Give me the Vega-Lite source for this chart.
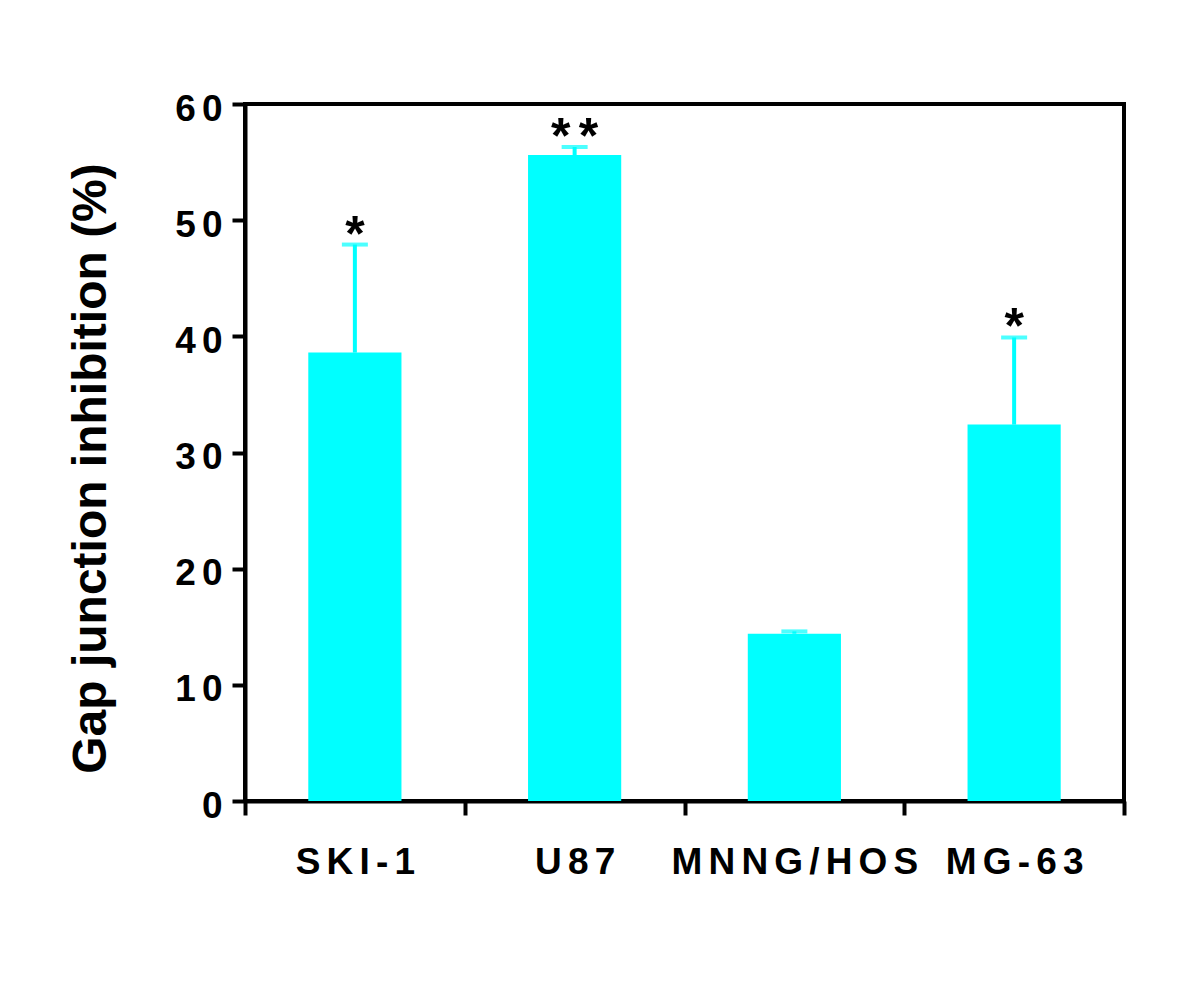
{
  "$schema": "https://vega.github.io/schema/vega-lite/v6.json",
  "width": 879,
  "height": 697,
  "autosize": {"type": "none"},
  "padding": {"left": 245, "top": 104, "right": 76, "bottom": 184},
  "background": "white",
  "config": {
    "view": {"stroke": "black", "strokeWidth": 4},
    "font": "Liberation Sans"
  },
  "data": {
    "values": [
      {"cell": "SKI-1", "value": 38.6, "err": 47.9, "sig": "*"},
      {"cell": "U87", "value": 55.6, "err": 56.3, "sig": "*\u2006*"},
      {"cell": "MNNG/HOS", "value": 14.4, "err": 14.6, "sig": ""},
      {"cell": "MG-63", "value": 32.4, "err": 39.9, "sig": "*"}
    ]
  },
  "encoding": {
    "x": {
      "field": "cell",
      "type": "nominal",
      "sort": null,
      "scale": {"paddingInner": 0, "paddingOuter": 0},
      "axis": {
        "title": null,
        "labelAngle": 0,
        "labelFont": "Liberation Sans",
        "labelFontSize": 37,
        "labelFontWeight": "bold",
        "labelColor": "black",
        "labelPadding": 29,
        "labelLimit": 0,
        "labelExpr": "join(split(datum.label, ''), '\u2006')",
        "domainColor": "black",
        "domainWidth": 4,
        "tickColor": "black",
        "tickWidth": 4,
        "tickSize": 14,
        "tickBand": "extent"
      }
    }
  },
  "layer": [
    {
      "mark": {"type": "bar", "color": "#00FFFF", "width": {"band": 0.424}},
      "encoding": {
        "y": {
          "field": "value",
          "type": "quantitative",
          "scale": {"domain": [0, 60], "nice": false},
          "axis": {
            "title": "Gap junction inhibition (%)",
            "values": [0, 10, 20, 30, 40, 50, 60],
            "grid": false,
            "labelFont": "Liberation Sans",
            "labelFontSize": 37,
            "labelFontWeight": "bold",
            "labelColor": "black",
            "labelPadding": 10,
            "labelOffset": 5,
            "labelExpr": "join(split(datum.label, ''), '\u2006')",
            "domainColor": "black",
            "domainWidth": 4,
            "tickColor": "black",
            "tickWidth": 4,
            "tickSize": 13,
            "titleFont": "Liberation Sans",
            "titleFontSize": 48,
            "titleFontWeight": "bold",
            "titleColor": "black",
            "titleAngle": 270,
            "titleBaseline": "middle",
            "titleX": -154,
            "titleY": 364
          }
        }
      }
    },
    {
      "mark": {"type": "rule", "color": "#00FFFF", "strokeWidth": 4},
      "encoding": {
        "y": {"field": "value", "type": "quantitative"},
        "y2": {"field": "err"}
      }
    },
    {
      "mark": {"type": "tick", "color": "#00FFFF", "size": 26, "thickness": 4},
      "encoding": {
        "y": {"field": "err", "type": "quantitative"}
      }
    },
    {
      "mark": {"type": "text", "fontSize": 50, "fontWeight": "bold", "font": "Liberation Sans", "baseline": "alphabetic", "dy": 6, "color": "black"},
      "encoding": {
        "y": {"field": "err", "type": "quantitative"},
        "text": {"field": "sig", "type": "nominal"}
      }
    }
  ]
}
